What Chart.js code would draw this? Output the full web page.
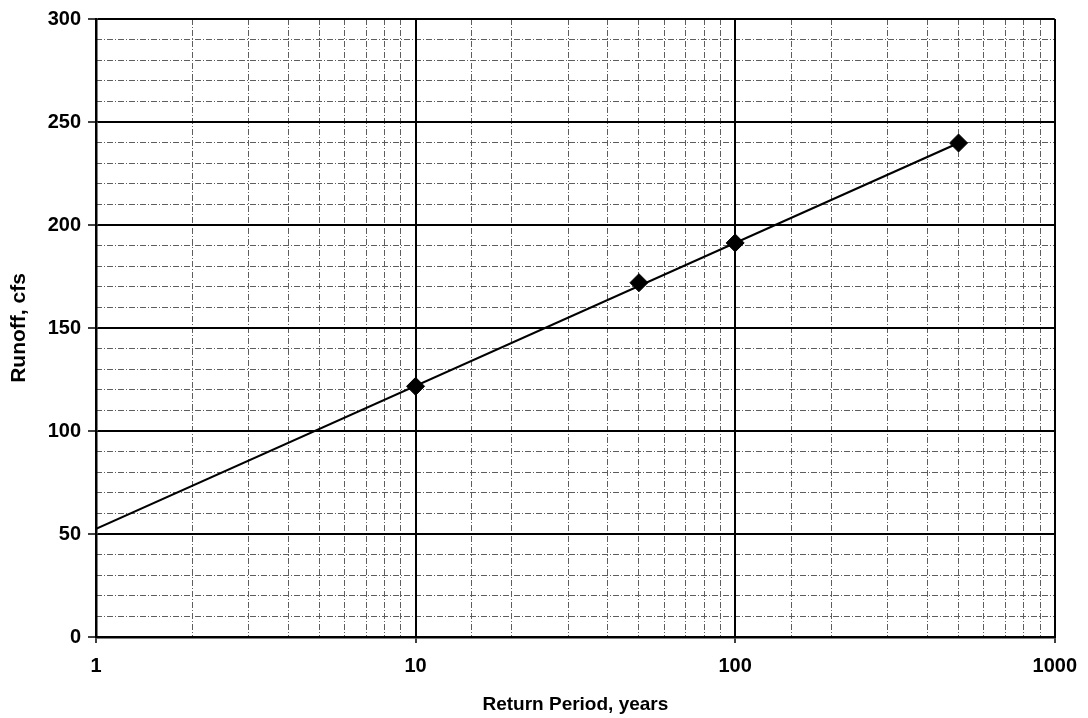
<!DOCTYPE html>
<html>
<head>
<meta charset="utf-8">
<script src="https://cdn.jsdelivr.net/npm/chart.js@4"></script>
<style>
  html, body { margin: 0; padding: 0; background: #fff; }
  canvas { display: block; }
</style>
</head>
<body>
<canvas id="c" width="1088" height="718"></canvas>
<script>
// ---- data ----
const returnPeriods = [10, 50, 100, 500];
const runoffValues = [121.7, 172, 191.3, 239.8];
const trendX = [1, 500];
const trendY = [52.5, 239.8];
const xTickValues = [1, 10, 100, 1000];
const xTickLabels = ['1', '10', '100', '1000'];
const yTickValues = [0, 50, 100, 150, 200, 250, 300];
const yTickLabels = ['0', '50', '100', '150', '200', '250', '300'];
const xTitle = 'Return Period, years';
const yTitle = 'Runoff, cfs';

const FONT = '"Liberation Sans", Arial, sans-serif';
const minorGrid = {
  color: '#5e5e5e',
  lineWidth: 1,
  drawTicks: false
};

new Chart(document.getElementById('c'), {
  type: 'scatter',
  data: {
    datasets: [
      {
        label: 'trend',
        data: trendX.map((x, i) => ({ x: x, y: trendY[i] })),
        showLine: true,
        borderColor: '#000',
        borderWidth: 2.2,
        pointRadius: 0,
        xAxisID: 'x',
        yAxisID: 'y'
      },
      {
        label: 'Runoff',
        data: returnPeriods.map((x, i) => ({ x: x, y: runoffValues[i] })),
        showLine: false,
        pointStyle: 'rectRot',
        pointRadius: 9,
        pointBackgroundColor: '#000',
        pointBorderColor: '#000',
        pointBorderWidth: 1,
        xAxisID: 'x',
        yAxisID: 'y'
      }
    ]
  },
  options: {
    responsive: false,
    animation: false,
    devicePixelRatio: 1,
    layout: { padding: { top: 16, right: 30, left: 0, bottom: 0 } },
    plugins: { legend: { display: false }, tooltip: { enabled: false } },
    scales: {
      xm: {
        type: 'logarithmic',
        position: 'bottom',
        min: 1, max: 1000,
        grid: minorGrid,
        border: { display: false, dash: [6, 2, 1, 2] },
        ticks: { display: false },
        afterFit: s => { s.height = 0; }
      },
      ym: {
        type: 'linear',
        position: 'left',
        min: 0, max: 300,
        grid: minorGrid,
        border: { display: false, dash: [6, 2, 1, 2] },
        ticks: { display: false, stepSize: 10 },
        afterFit: s => { s.width = 0; }
      },
      x: {
        type: 'logarithmic',
        position: 'bottom',
        min: 1, max: 1000,
        afterBuildTicks: s => { s.ticks = xTickValues.map(v => ({ value: v, major: true })); },
        grid: { color: '#000', lineWidth: 2, tickLength: 6, tickColor: '#000', tickWidth: 1.5 },
        border: { display: true, color: '#000', width: 2.5 },
        ticks: {
          color: '#000',
          padding: 11,
          maxRotation: 0,
          autoSkip: false,
          font: { family: FONT, size: 20, weight: 'bold' },
          callback: (v, i) => xTickLabels[i]
        },
        title: {
          display: true,
          text: xTitle,
          color: '#000',
          font: { family: FONT, size: 19, weight: 'bold' },
          padding: { top: 0, bottom: 2 }
        },
        afterFit: s => { s.height = 81; }
      },
      y: {
        type: 'linear',
        position: 'left',
        min: 0, max: 300,
        afterBuildTicks: s => { s.ticks = yTickValues.map(v => ({ value: v })); },
        grid: { color: '#000', lineWidth: 2, tickLength: 8, tickColor: '#000', tickWidth: 1.5 },
        border: { display: true, color: '#000', width: 2.5 },
        ticks: {
          color: '#000',
          padding: 7,
          autoSkip: false,
          font: { family: FONT, size: 20, weight: 'bold' },
          callback: (v, i) => yTickLabels[i]
        },
        title: {
          display: true,
          text: yTitle,
          color: '#000',
          font: { family: FONT, size: 21, weight: 'bold' },
          padding: { top: 7, bottom: 0 }
        },
        afterFit: s => { s.width = 96; }
      }
    }
  }
});
</script>
</body>
</html>
